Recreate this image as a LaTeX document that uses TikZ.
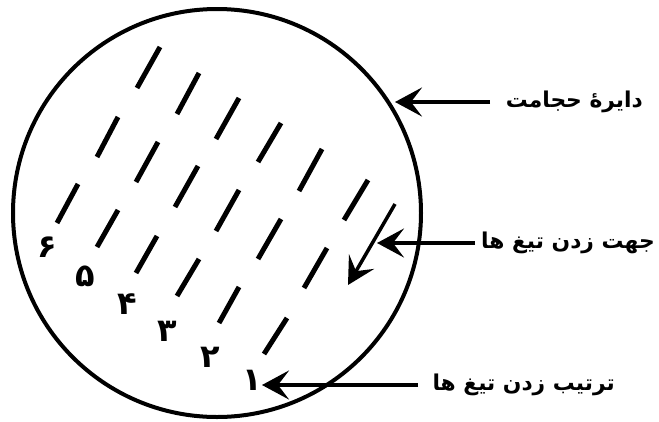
\documentclass[tikz,border=0pt]{standalone}
\usepackage{fontspec}
\usetikzlibrary{arrows.meta}
\newfontfamily\arabicfont[Script=Arabic]{DejaVu Sans}
\TeXXeTstate=1
\begin{document}
\begin{tikzpicture}[x=1pt,y=-1pt,
  ring/.style={circle,draw,line width=4pt,minimum size=408pt,inner sep=0pt},
  blade/.style={line width=5pt},
  pointer/.style={line width=3.5pt,-{Stealth[length=27pt,width=29pt,inset=11pt]}},
  caption/.style={font=\arabicfont\bfseries\fontsize{21.8}{26}\selectfont,inner sep=0pt,anchor=east},
  num/.style={font=\arabicfont\bfseries\fontsize{32}{34}\selectfont,inner sep=0pt}]
\useasboundingbox (0,0) rectangle (659,421);
\node[ring] (c) at (217,213) {};
% blades, column 6 .. 1
\draw[blade] (160,47) -- (137,88);
\draw[blade] (118,117) -- (97,157);
\draw[blade] (78,184) -- (57,223);
\draw[blade] (199,73) -- (177,114);
\draw[blade] (158,142) -- (136,182);
\draw[blade] (118,210) -- (97,247);
\draw[blade] (239,98) -- (216,139);
\draw[blade] (198,166) -- (175,207);
\draw[blade] (157,236) -- (136,273);
\draw[blade] (281,123) -- (258,162);
\draw[blade] (239,190) -- (216,231);
\draw[blade] (199,259) -- (177,296);
\draw[blade] (322,149) -- (299,191);
\draw[blade] (281,219) -- (258,259);
\draw[blade] (239,287) -- (219,323);
\draw[blade] (368,180) -- (344,220);
\draw[blade] (327,248) -- (304,288);
\draw[blade] (287,318) -- (264,354);
% numbers
\node[num] (n6) at (47,247) {۶};
\node[num] (n5) at (85,276) {۵};
\node[num] (n4) at (127,304) {۴};
\node[num] (n3) at (167,331) {۳};
\node[num] (n2) at (210,357) {۲};
\node[num] (n1) at (252,380) {۱};
% direction arrow
\coordinate (d0) at (395,204);
\coordinate (d1) at (348,285);
\draw[pointer] (d0) -- (d1);
% captions
\node[caption] (t1) at (643,102) {\beginR دایرهٔ حجامت\endR};
\node[caption] (t2) at (655,243) {\beginR جهت زدن تیغ ها\endR};
\node[caption] (t3) at (615,385) {\beginR ترتیب زدن تیغ ها\endR};
\coordinate (s1) at (490,102);
\coordinate (s2) at (475,243);
\coordinate (s3) at (418,385);
\coordinate (p1) at (395,102);
\coordinate (p2) at (377,243);
\coordinate (p3) at (262,385);
\draw[pointer] (s1) -- (p1);
\draw[pointer] (s2) -- (p2);
\draw[pointer] (s3) -- (p3);
\end{tikzpicture}
\end{document}
